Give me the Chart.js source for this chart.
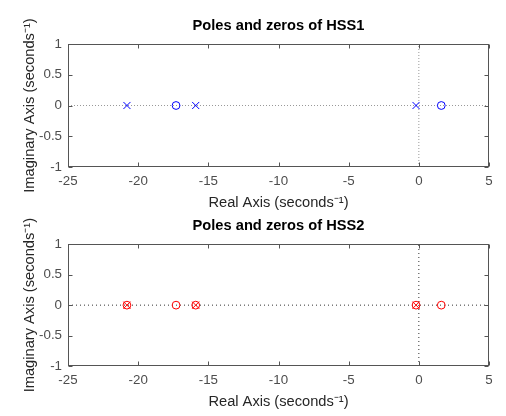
<!DOCTYPE html>
<html><head><meta charset="utf-8">
<script src="https://cdn.jsdelivr.net/npm/chart.js@4.4.0/dist/chart.umd.min.js"></script>
<style>
html,body{margin:0;padding:0;background:#fff;overflow:hidden;width:506px;height:416px}
canvas{position:absolute;left:0}
#c1{top:0}
#c2{top:212px}
</style></head><body>
<canvas id="c1" width="506" height="212"></canvas>
<canvas id="c2" width="506" height="204"></canvas>
<script>
// ---- data ----
const xTicks = [-25, -20, -15, -10, -5, 0, 5];
const yTicks = [-1, -0.5, 0, 0.5, 1];
const hss1Poles = [-20.8, -15.9, -0.2];
const hss1Zeros = [-17.3, 1.6];
const hss2Poles = [-20.8, -15.9, -0.2];
const hss2Zeros = [-20.8, -17.3, -15.9, -0.2, 1.6];
const plotTitles = ['Poles and zeros of HSS1', 'Poles and zeros of HSS2'];
const xLabel = 'Real Axis (seconds\u207B\u00B9)';
const yLabel = 'Imaginary Axis (seconds\u207B\u00B9)';

Chart.defaults.font.family = '"Liberation Sans", Arial, Helvetica, sans-serif';
Chart.defaults.animation = false;

const frame = {
  id: 'frame',
  afterDatasetsDraw(chart) {
    const {ctx, chartArea: a, scales: {x, y}} = chart;
    ctx.save();
    ctx.strokeStyle = '#555555';
    ctx.lineWidth = 1;
    ctx.beginPath();
    const L = Math.round(a.left) + 0.5, R = Math.round(a.right) - 0.5;
    const T = Math.round(a.top) + 0.5, B = Math.round(a.bottom) - 0.5;
    x.ticks.forEach(t => {
      const p = Math.round(x.getPixelForValue(t.value)) + 0.5;
      ctx.moveTo(p, B); ctx.lineTo(p, B - 4);
      ctx.moveTo(p, T); ctx.lineTo(p, T + 4);
    });
    y.ticks.forEach(t => {
      const p = Math.round(y.getPixelForValue(t.value)) + 0.5;
      ctx.moveTo(L, p); ctx.lineTo(L + 4, p);
      ctx.moveTo(R, p); ctx.lineTo(R - 4, p);
    });
    ctx.stroke();
    ctx.strokeRect(L, T, R - L, B - T);
    ctx.restore();
  }
};

function makeChart(id, title, poles, zeros, color, guideColor, dash, geo) {
  const pts = v => v.map(r => ({x: r, y: 0}));
  return new Chart(document.getElementById(id), {
    type: 'scatter',
    data: {
      datasets: [
        {type: 'line', data: [{x: xTicks[0], y: 0}, {x: xTicks[xTicks.length - 1], y: 0}],
         borderColor: guideColor, borderWidth: 1, borderDash: dash, pointRadius: 0, order: 3},
        {type: 'line', data: [{x: 0, y: yTicks[0]}, {x: 0, y: yTicks[yTicks.length - 1]}],
         borderColor: guideColor, borderWidth: 1, borderDash: dash, pointRadius: 0, order: 3},
        {label: 'zeros', data: pts(zeros), pointStyle: 'circle', pointRadius: 3.9,
         borderColor: color, backgroundColor: 'rgba(0,0,0,0)', borderWidth: 1, order: 2},
        {label: 'poles', data: pts(poles), pointStyle: 'crossRot', pointRadius: 5,
         borderColor: color, backgroundColor: color, borderWidth: 1, order: 1}
      ]
    },
    options: {
      responsive: false,
      devicePixelRatio: 1,
      events: [],
      layout: {padding: {left: 0, right: 17, top: 0, bottom: 0}},
      plugins: {
        legend: {display: false},
        tooltip: {enabled: false},
        title: {display: true, fullSize: false, text: title, color: '#000000',
                font: {size: 14.67, weight: 'bold'}, padding: geo.titlePad}
      },
      scales: {
        x: {
          type: 'linear', min: xTicks[0], max: xTicks[xTicks.length - 1],
          afterBuildTicks: s => { s.ticks = xTicks.map(v => ({value: v})); },
          afterFit: s => { s.height = geo.xHeight; },
          grid: {display: false, drawTicks: false},
          border: {display: false},
          ticks: {color: '#4d4d4d', font: {size: 13.33}, padding: 6, maxRotation: 0,
                  callback: v => String(v)},
          title: {display: true, text: xLabel, color: '#262626', font: {size: 14.67},
                  padding: {top: 0, bottom: geo.xTitleBottom}}
        },
        y: {
          type: 'linear', min: yTicks[0], max: yTicks[yTicks.length - 1],
          afterBuildTicks: s => { s.ticks = yTicks.map(v => ({value: v})); },
          afterFit: s => { s.width = 68; },
          grid: {display: false, drawTicks: false},
          border: {display: false},
          ticks: {color: '#4d4d4d', font: {size: 13.33}, padding: 6,
                  callback: v => String(v)},
          title: {display: true, text: yLabel, color: '#262626', font: {size: 14.67},
                  padding: {top: 21, bottom: 0}}
        }
      }
    },
    plugins: [frame]
  });
}

makeChart('c1', plotTitles[0], hss1Poles, hss1Zeros, '#0000ff', '#999999', [1, 2],
  {titlePad: {top: 17, bottom: 9.4}, xHeight: 45, xTitleBottom: 0.7});
makeChart('c2', plotTitles[1], hss2Poles, hss2Zeros, '#ff0000', '#333333', [1, 3],
  {titlePad: {top: 4.9, bottom: 9.8}, xHeight: 50, xTitleBottom: 5.5});
</script>
</body></html>
